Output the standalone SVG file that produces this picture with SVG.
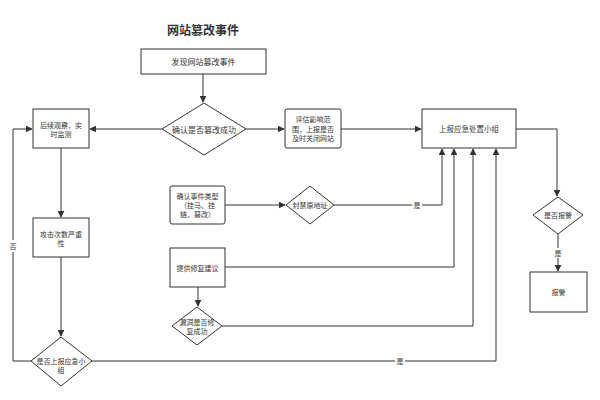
<svg xmlns="http://www.w3.org/2000/svg" width="600" height="400" viewBox="0 0 600 400">
<style>
.n{fill:#fff;stroke:#333;stroke-width:1}
.t{font-family:"Noto Sans CJK SC","Noto Sans",sans-serif;font-size:7px;fill:#333;text-anchor:middle;dominant-baseline:central}
.big{font-size:8px}
.e{fill:none;stroke:#333;stroke-width:1}
.lb{font-family:"Noto Sans CJK SC","Noto Sans",sans-serif;font-size:7px;fill:#333;text-anchor:middle;dominant-baseline:central}
</style>
<defs>
<marker id="a" viewBox="0 0 10 10" refX="9" refY="5" markerWidth="7" markerHeight="7" orient="auto" markerUnits="userSpaceOnUse"><path d="M0,0 L10,5 L0,10 z" fill="#333"/></marker>
</defs>
<rect width="600" height="400" fill="#fff"/>
<text x="203" y="29" style="font-family:'Noto Sans CJK SC',sans-serif;font-size:12px;font-weight:bold;fill:#333;text-anchor:middle;dominant-baseline:central">网站篡改事件</text>
<g id="edges">
<path class="e" d="M203,74 V102" marker-end="url(#a)"/>
<path class="e" d="M162,129 H90" marker-end="url(#a)"/>
<path class="e" d="M246,129 H284" marker-end="url(#a)"/>
<path class="e" d="M341,129 H421" marker-end="url(#a)"/>
<path class="e" d="M61,148 V217" marker-end="url(#a)"/>
<path class="e" d="M61,257 V336" marker-end="url(#a)"/>
<path class="e" d="M31,361 H13 V129 H32" marker-end="url(#a)"/>
<rect x="9" y="240" width="8" height="12" fill="#fff"/>
<text class="lb" x="13" y="246">否</text>
<path class="e" d="M92,361 H496 V149" marker-end="url(#a)"/>
<rect x="395" y="356" width="10" height="10" fill="#fff"/>
<text class="lb" x="400" y="361">是</text>
<path class="e" d="M225,205 H285" marker-end="url(#a)"/>
<path class="e" d="M334,205 H442 V149" marker-end="url(#a)"/>
<rect x="412" y="200" width="10" height="10" fill="#fff"/>
<text class="lb" x="417" y="205">是</text>
<path class="e" d="M225,267 H454 V149" marker-end="url(#a)"/>
<path class="e" d="M198,287 V306" marker-end="url(#a)"/>
<path class="e" d="M222,326 H473 V149" marker-end="url(#a)"/>
<path class="e" d="M516,129 H557 V196" marker-end="url(#a)"/>
<path class="e" d="M558,234 V271" marker-end="url(#a)"/>
<rect x="553" y="248" width="10" height="10" fill="#fff"/>
<text class="lb" x="558" y="253">是</text>
</g>
<g id="n1"><rect class="n" x="141" y="49" width="125" height="25"/><text class="t big" x="203.5" y="61.5">发现网站篡改事件</text></g>
<g id="n2"><path class="n" d="M204,103 L246,129 L204,155 L162,129 Z"/><text class="t big" x="204" y="129">确认是否篡改成功</text></g>
<g id="n3"><rect class="n" x="33" y="109" width="56" height="39"/><text class="t" x="61" y="125">后续观察，实</text><text class="t" x="61" y="134">时监测</text></g>
<g id="n4"><rect class="n" x="285" y="109" width="56" height="39" rx="2"/><text class="t" x="313" y="119">评估影响范</text><text class="t" x="313" y="128.5">围，上报是否</text><text class="t" x="313" y="138">及时关闭网站</text></g>
<g id="n5"><rect class="n" x="422" y="109" width="94" height="39"/><text class="t" x="469" y="128.5" style="font-size:7.5px">上报应急处置小组</text></g>
<g id="n6"><rect class="n" x="170" y="186" width="55" height="38" rx="2"/><text class="t" x="197.5" y="196">确认事件类型</text><text class="t" x="197.5" y="205">（挂马、挂</text><text class="t" x="197.5" y="214">链、篡改）</text></g>
<g id="n7"><path class="n" d="M310,186 L334,205 L310,224 L286,205 Z"/><text class="t" x="310" y="205">封禁原地址</text></g>
<g id="n8"><rect class="n" x="33" y="218" width="56" height="39"/><text class="t" x="61" y="234">攻击次数严重</text><text class="t" x="61" y="243">性</text></g>
<g id="n9"><rect class="n" x="170" y="248" width="55" height="39"/><text class="t" x="197.5" y="267.5">提供修复建议</text></g>
<g id="n10"><path class="n" d="M197,307 L222,326 L197,345 L172,326 Z"/><text class="t" x="197" y="322">漏洞是否修</text><text class="t" x="197" y="331">复成功</text></g>
<g id="n11"><path class="n" d="M61,337 L92,361 L61,386 L31,361 Z"/><text class="t" x="61" y="361">是否上报应急小</text><text class="t" x="61" y="370">组</text></g>
<g id="n12"><path class="n" d="M558,197 L583,215 L558,234 L533,215 Z"/><text class="t" x="558" y="215">是否报警</text></g>
<g id="n13"><rect class="n" x="530" y="272" width="57" height="40"/><text class="t" x="558.5" y="292">报警</text></g>
</svg>
